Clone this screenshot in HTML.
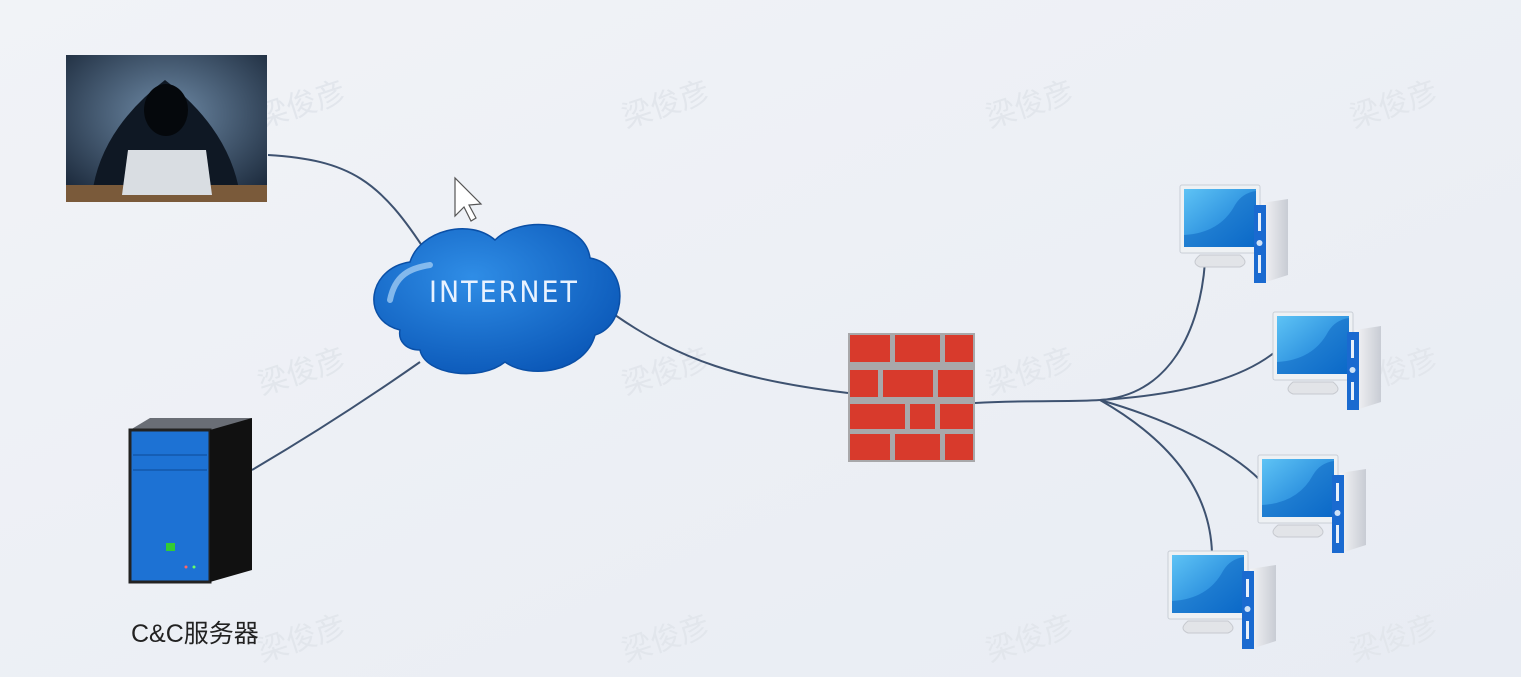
<!DOCTYPE html>
<html><head><meta charset="utf-8"><style>
html,body{margin:0;padding:0;width:1521px;height:677px;overflow:hidden;background:#eef1f6}
svg{display:block}
</style></head><body>
<svg width="1521" height="677" viewBox="0 0 1521 677" xmlns="http://www.w3.org/2000/svg">
<defs>
<linearGradient id="bg" x1="0" y1="0" x2="1" y2="1"><stop offset="0" stop-color="#f1f3f7"/><stop offset="1" stop-color="#e8ecf3"/></linearGradient>
<linearGradient id="scr" x1="0" y1="0" x2="1" y2="1"><stop offset="0" stop-color="#5ec3f5"/><stop offset="1" stop-color="#0b6fd0"/></linearGradient>
<linearGradient id="tw" x1="0" y1="0" x2="1" y2="0"><stop offset="0" stop-color="#f4f4f6"/><stop offset="1" stop-color="#c8ccd4"/></linearGradient>
<radialGradient id="cl" cx="0.4" cy="0.35" r="0.7"><stop offset="0" stop-color="#2f8de6"/><stop offset="1" stop-color="#0b58b8"/></radialGradient>
<radialGradient id="hk" cx="0.5" cy="0.4" r="0.7"><stop offset="0" stop-color="#6e8aa6"/><stop offset="1" stop-color="#1c2a3c"/></radialGradient>
<g id="pc">
 <path d="M20 70 q-10 8 0 12 h40 q10 -4 0 -12z" fill="#e2e4e8" stroke="#c6c9cf"/>
 <rect x="0" y="0" width="80" height="68" rx="2" fill="#eef1f4" stroke="#c9ced6"/>
 <rect x="4" y="4" width="72" height="58" fill="url(#scr)"/>
 <path d="M4 50 Q40 48 55 20 Q62 8 76 6 V62 H4z" fill="#0a62c0" opacity="0.5"/>
 <path d="M82 18 L108 14 V90 L86 97z" fill="url(#tw)"/>
 <rect x="74" y="20" width="12" height="78" fill="#1a6ad0"/>
 <rect x="78" y="28" width="3" height="18" fill="#e8f0fa"/>
 <circle cx="79.5" cy="58" r="3" fill="#cfe2f7"/>
 <rect x="78" y="70" width="3" height="18" fill="#e8f0fa"/>
</g>
</defs>
<rect width="1521" height="677" fill="url(#bg)"/>
<g font-family="'Liberation Sans','Noto Sans CJK SC',sans-serif" font-size="30" fill="#e2e6ec">
<text transform="translate(262,128) rotate(-18)">梁俊彦</text>
<text transform="translate(626,128) rotate(-18)">梁俊彦</text>
<text transform="translate(990,128) rotate(-18)">梁俊彦</text>
<text transform="translate(1354,128) rotate(-18)">梁俊彦</text>
<text transform="translate(262,395) rotate(-18)">梁俊彦</text>
<text transform="translate(626,395) rotate(-18)">梁俊彦</text>
<text transform="translate(990,395) rotate(-18)">梁俊彦</text>
<text transform="translate(1354,395) rotate(-18)">梁俊彦</text>
<text transform="translate(262,662) rotate(-18)">梁俊彦</text>
<text transform="translate(626,662) rotate(-18)">梁俊彦</text>
<text transform="translate(990,662) rotate(-18)">梁俊彦</text>
<text transform="translate(1354,662) rotate(-18)">梁俊彦</text>
</g>
<g fill="none" stroke="#3e5270" stroke-width="2">
<path d="M268 155 C350 160 380 180 428 255"/>
<path d="M252 470 C320 430 380 390 420 362"/>
<path d="M615 315 C680 360 740 380 848 393"/>
<path d="M975 403 C1030 400 1070 402 1100 400"/>
<path d="M1100 400 C1170 395 1200 330 1205 262"/>
<path d="M1100 400 C1180 395 1240 380 1275 352"/>
<path d="M1100 400 C1170 420 1230 450 1260 480"/>
<path d="M1100 400 C1170 440 1210 490 1212 553"/>
</g>
<rect x="66" y="55" width="201" height="147" fill="url(#hk)"/>
<path d="M92 195 Q100 130 165 80 Q230 130 240 195z" fill="#0f1824"/>
<ellipse cx="166" cy="110" rx="22" ry="26" fill="#05080c"/>
<rect x="66" y="185" width="201" height="17" fill="#7a5a3a"/>
<path d="M128 150 h78 l6 45 h-90z" fill="#d9dde2"/>
<g fill="url(#cl)" stroke="#0a4fa6" stroke-width="1.5">
<path d="M400 330 C360 320 368 268 410 262 C420 230 470 218 495 240 C520 215 585 220 590 258 C630 265 628 325 595 335 C585 372 530 380 505 362 C480 382 425 375 420 350 C405 350 398 340 400 330z"/>
</g>
<path d="M390 300 C395 275 410 268 430 265" stroke="#9cc9f2" stroke-width="6" fill="none" stroke-linecap="round" opacity="0.8"/>
<text x="429" y="302" font-family="'DejaVu Sans Condensed','DejaVu Sans','Liberation Sans',sans-serif" font-size="29" fill="#e8f2ff" letter-spacing="2" textLength="150" lengthAdjust="spacingAndGlyphs">INTERNET</text>
<path d="M455 178 V216 L464 207 L471 221 L476 218 L469 205 L481 204z" fill="#fff" stroke="#555" stroke-width="1.2"/>
<rect x="848" y="333" width="127" height="129" fill="#a8a8aa"/>
<g fill="#d83a2c">
<rect x="850" y="335" width="40" height="27"/><rect x="895" y="335" width="45" height="27"/><rect x="945" y="335" width="28" height="27"/>
<rect x="850" y="370" width="28" height="27"/><rect x="883" y="370" width="50" height="27"/><rect x="938" y="370" width="35" height="27"/>
<rect x="850" y="404" width="55" height="25"/><rect x="910" y="404" width="25" height="25"/><rect x="940" y="404" width="33" height="25"/>
<rect x="850" y="434" width="40" height="26"/><rect x="895" y="434" width="45" height="26"/><rect x="945" y="434" width="28" height="26"/>
</g>
<path d="M130 430 L150 418 H252 L235 430z" fill="#6a6e76"/>
<rect x="130" y="430" width="80" height="152" fill="#1d72d4" stroke="#222" stroke-width="3"/>
<path d="M210 430 L252 418 V570 L210 582z" fill="#111"/>
<line x1="133" y1="455" x2="207" y2="455" stroke="#0d4a96"/>
<line x1="133" y1="470" x2="207" y2="470" stroke="#0d4a96"/>
<rect x="166" y="543" width="9" height="8" fill="#3c3"/>
<circle cx="186" cy="567" r="1.5" fill="#f66"/><circle cx="194" cy="567" r="1.5" fill="#6f6"/>
<text x="131" y="642" font-family="'Liberation Sans','Noto Sans CJK SC',sans-serif" font-size="25" fill="#222">C&amp;C服务器</text>
<use href="#pc" x="1180" y="185"/>
<use href="#pc" x="1273" y="312"/>
<use href="#pc" x="1258" y="455"/>
<use href="#pc" x="1168" y="551"/>
</svg>
</body></html>
